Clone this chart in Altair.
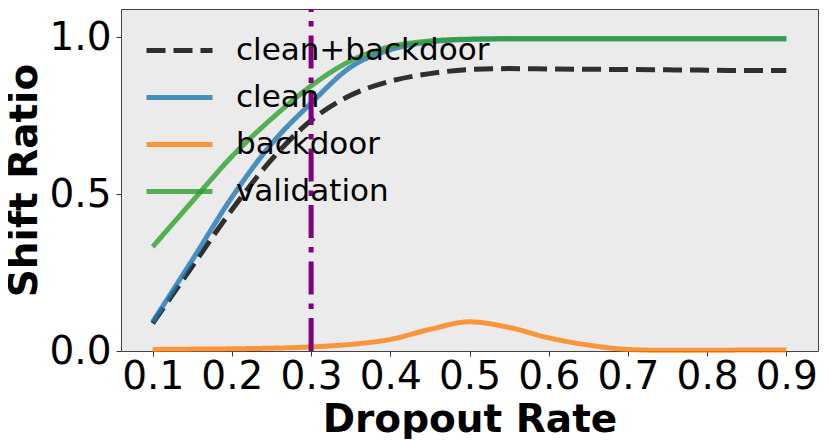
import altair as alt
import pandas as pd

dropout = [0.10, 0.15, 0.20, 0.25, 0.30, 0.35, 0.40, 0.45, 0.50, 0.55,
           0.60, 0.65, 0.70, 0.75, 0.80, 0.85, 0.90]
clean_backdoor = [0.088, 0.27, 0.45, 0.61, 0.735, 0.815, 0.86, 0.884, 0.897, 0.900,
                  0.899, 0.898, 0.897, 0.896, 0.895, 0.894, 0.894]
clean = [0.093, 0.29, 0.49, 0.66, 0.79, 0.905, 0.96, 0.985, 0.993, 0.995,
         0.995, 0.995, 0.995, 0.995, 0.995, 0.995, 0.995]
backdoor = [0.005, 0.006, 0.007, 0.009, 0.013, 0.021, 0.037, 0.069, 0.093, 0.075,
            0.042, 0.019, 0.005, 0.002, 0.002, 0.003, 0.003]
validation = [0.332, 0.477, 0.62, 0.74, 0.845, 0.925, 0.970, 0.988, 0.994, 0.995,
              0.995, 0.995, 0.995, 0.995, 0.995, 0.995, 0.995]

series_names = ["clean+backdoor", "clean", "backdoor", "validation"]
series_colors = ["#000000", "#1f77b4", "#ff7f0e", "#2ca02c"]
series_dash = [[19, 8], [1, 0], [1, 0], [1, 0]]
vline_x = [0.3]
x_ticks = [0.1, 0.2, 0.3, 0.4, 0.5, 0.6, 0.7, 0.8, 0.9]
y_ticks = [0.0, 0.5, 1.0]
y_domain = [0, 1.09]
x_domain = [0.06, 0.94]

rows = []
for name, vals in zip(series_names, [clean_backdoor, clean, backdoor, validation]):
    for x, v in zip(dropout, vals):
        rows.append({"dropout": x, "ratio": v, "series": name})
df = pd.DataFrame(rows)

xscale = alt.Scale(domain=x_domain, nice=False, zero=False)
yscale = alt.Scale(domain=y_domain, nice=False)

legend = alt.Legend(
    title=None, orient="none", legendX=43, legendY=26, padding=0,
    symbolType="M-3,0L3,0", symbolSize=484, symbolStrokeWidth=5,
    labelFont="DejaVu Sans", labelFontSize=31, labelColor="black", labelLimit=0,
    labelOffset=41, rowPadding=15, symbolOpacity=0.8,
)

lines = alt.Chart(df).mark_line(strokeWidth=5, opacity=0.8, interpolate="monotone").encode(
    x=alt.X("dropout:Q", scale=xscale,
            axis=alt.Axis(values=x_ticks, format=".1f", title="Dropout Rate")),
    y=alt.Y("ratio:Q", scale=yscale,
            axis=alt.Axis(values=y_ticks, format=".1f", title="Shift Ratio")),
    color=alt.Color("series:N", scale=alt.Scale(domain=series_names, range=series_colors),
                    legend=legend),
    strokeDash=alt.StrokeDash("series:N", scale=alt.Scale(domain=series_names, range=series_dash),
                              legend=legend),
    detail="series:N",
)

vline = alt.Chart(pd.DataFrame({"x": vline_x})).mark_rule(
    color="#800080", strokeWidth=5, strokeDash=[33, 9, 5.5, 9]
).encode(
    x=alt.X("x:Q", scale=xscale),
    y=alt.Y(datum=y_domain[0], scale=yscale),
    y2=alt.Y2(datum=y_domain[1]),
)

chart = alt.layer(lines, vline).properties(
    width=697, height=342,
    autosize=alt.AutoSizeParams(type="none"),
    padding={"left": 113, "top": 1, "right": 4, "bottom": 88},
).configure_view(
    fill="#ebebeb", stroke="#444444", strokeWidth=1
).configure_axis(
    grid=False, domain=False,
    labelFont="DejaVu Sans", labelFontSize=39, labelColor="black",
    tickColor="#333333", tickSize=5, tickWidth=1,
    titleFont="DejaVu Sans", titleFontSize=39, titleFontWeight="bold", titleColor="black",
).configure_axisX(
    labelPadding=1, titlePadding=4
).configure_axisY(
    labelPadding=5, titlePadding=4
)

chart.save("out.html", embed_options={"renderer": "svg", "actions": False})
